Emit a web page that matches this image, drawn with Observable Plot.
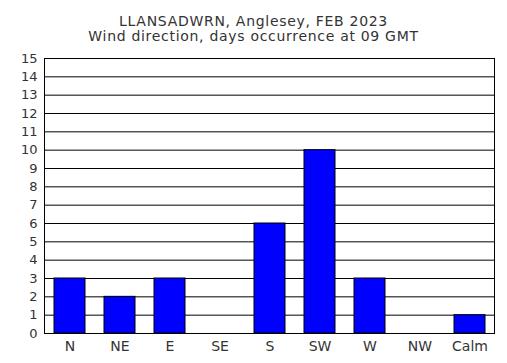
<!DOCTYPE html>
<html>
<head>
<meta charset="utf-8">
<script src="https://cdn.jsdelivr.net/npm/d3@7"></script>
<script src="https://cdn.jsdelivr.net/npm/@observablehq/plot@0.6"></script>
<style>
  html, body { margin: 0; padding: 0; background: #fff; }
</style>
</head>
<body>
<div id="chart"></div>
<script>
const directions = ["N", "NE", "E", "SE", "S", "SW", "W", "NW", "Calm"];
const days = [3, 2, 3, 0, 6, 10, 3, 0, 1];
const yTicks = d3.range(0, 16);
const titleLines = ["LLANSADWRN, Anglesey, FEB 2023", "Wind direction, days occurrence at 09 GMT"];

const data = directions.map((d, i) => ({direction: d, days: days[i]}));

const chart = Plot.plot({
  width: 507,
  height: 363,
  marginTop: 58,
  marginBottom: 30,
  marginLeft: 44,
  marginRight: 13,
  style: {fontFamily: "'DejaVu Sans', Verdana, sans-serif", fontSize: "13px", color: "#333", background: "#fff"},
  x: {domain: directions, paddingInner: 0.38, paddingOuter: 0.19},
  y: {domain: [0, 15]},
  marks: [
    Plot.gridY(yTicks, {stroke: "#000", strokeOpacity: 1, strokeWidth: 1}),
    Plot.barY(data, {x: "direction", y: "days", fill: "#0000ff", stroke: "#000", strokeWidth: 1}),
    Plot.frame({stroke: "#000", strokeWidth: 1}),
    Plot.axisX({label: null, tickSize: 0, tickPadding: 8, fontSize: 14}),
    Plot.axisY(yTicks, {label: null, tickSize: 0, tickPadding: 7, fontSize: 13}),
    Plot.text([titleLines[0]], {frameAnchor: "top", dx: -16, dy: -42, text: d => d, fontSize: 14, fill: "#333"}),
    Plot.text([titleLines[1]], {frameAnchor: "top", dx: -16, dy: -27, text: d => d, fontSize: 14, fill: "#333"})
  ]
});
chart.querySelectorAll("text").forEach(t => {
  if (t.textContent === titleLines[0]) t.setAttribute("letter-spacing", "0.7");
  if (t.textContent === titleLines[1]) t.setAttribute("letter-spacing", "0.7");
});
document.getElementById("chart").appendChild(chart);
</script>
</body>
</html>
